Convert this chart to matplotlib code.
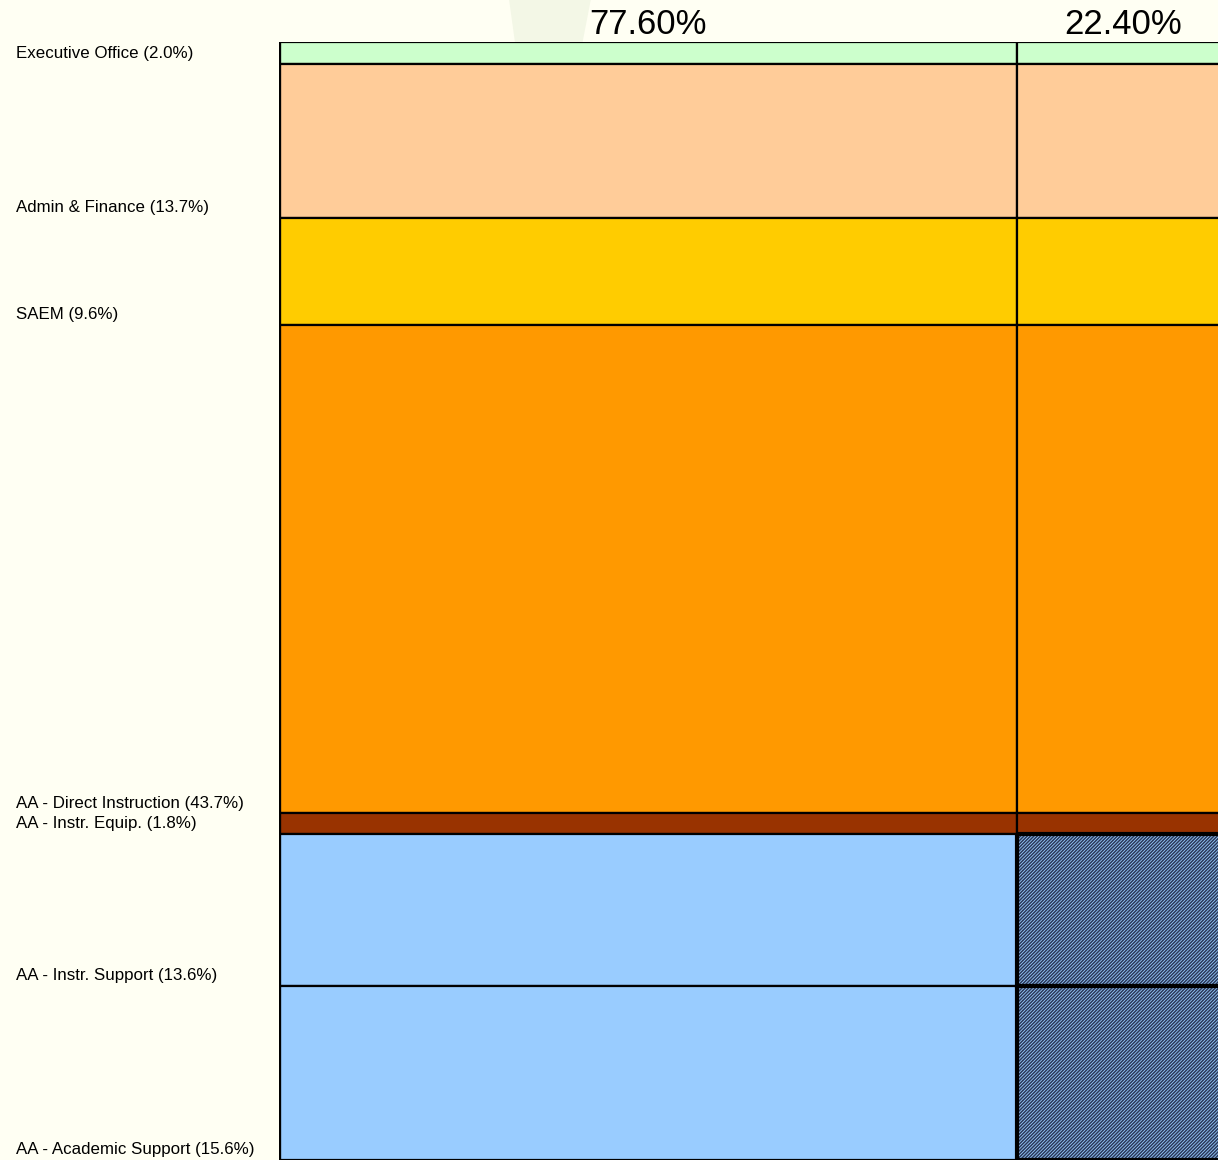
import matplotlib.pyplot as plt
import matplotlib.patches as mpatches

plt.rcParams['font.family'] = ['Liberation Sans', 'DejaVu Sans']
plt.rcParams['hatch.linewidth'] = 1.1

# column shares (%) and row shares (%)
col_labels = ['77.60%', '22.40%']
col_shares = [77.6, 22.4]

row_names = ['Executive Office', 'Admin & Finance', 'SAEM', 'AA - Direct Instruction',
             'AA - Instr. Equip.', 'AA - Instr. Support', 'AA - Academic Support']
row_shares = [2.0, 13.7, 9.6, 43.7, 1.8, 13.6, 15.6]
row_colors = ['#CCFFCC', '#FFCC99', '#FFCC00', '#FF9900', '#993300', '#99CCFF', '#99CCFF']
# which cells in the second column are hatched
hatched_right = [False, False, False, False, False, True, True]

fig = plt.figure(figsize=(12.18, 11.6), dpi=100)
fig.patch.set_facecolor('#FFFFF3')

# faint watermark shape behind the top label
wm = mpatches.Polygon([(0.418, 1.0), (0.485, 1.0), (0.478, 0.962), (0.423, 0.962)],
                      closed=True, transform=fig.transFigure,
                      facecolor='#F3F7E6', edgecolor='none', zorder=-1)
fig.add_artist(wm)

ax = fig.add_axes([279 / 1218, 0.0, 951 / 1218, 1118 / 1160])
ax.patch.set_alpha(0)

x0 = 0
for j, w in enumerate(col_shares):
    y0 = 0
    for i, h in enumerate(row_shares):
        if j == 1 and hatched_right[i]:
            ax.bar(x0, h, width=w, bottom=y0, align='edge', color='#99CCFF',
                   edgecolor='#2A3858', linewidth=0, hatch='//////////')
            ax.bar(x0, h, width=w, bottom=y0, align='edge', color='none',
                   edgecolor='black', linewidth=3.0)
        else:
            ax.bar(x0, h, width=w, bottom=y0, align='edge', color=row_colors[i],
                   edgecolor='black', linewidth=1.6)
        y0 += h
    ax.text(x0 + w / 2, -1.6, col_labels[j], ha='center', va='center', fontsize=25)
    x0 += w

# heavier outer left border
ax.plot([0, 0], [0, 100], color='black', linewidth=2.4, solid_capstyle='butt')

ax.set_xlim(0, 100)
ax.set_ylim(100, 0)
ax.axis('off')

# row labels at the left margin, near the bottom of each band
y0 = 0
for name, h in zip(row_names, row_shares):
    y0 += h
    ax.annotate(f'{name} ({h:.1f}%)', xy=(16 / 1218, y0), xycoords=('figure fraction', 'data'),
                xytext=(0, 7.5), textcoords='offset points', ha='left', va='center',
                fontsize=12.2, annotation_clip=False)

fig.savefig('out.png', dpi=100, facecolor=fig.get_facecolor())
